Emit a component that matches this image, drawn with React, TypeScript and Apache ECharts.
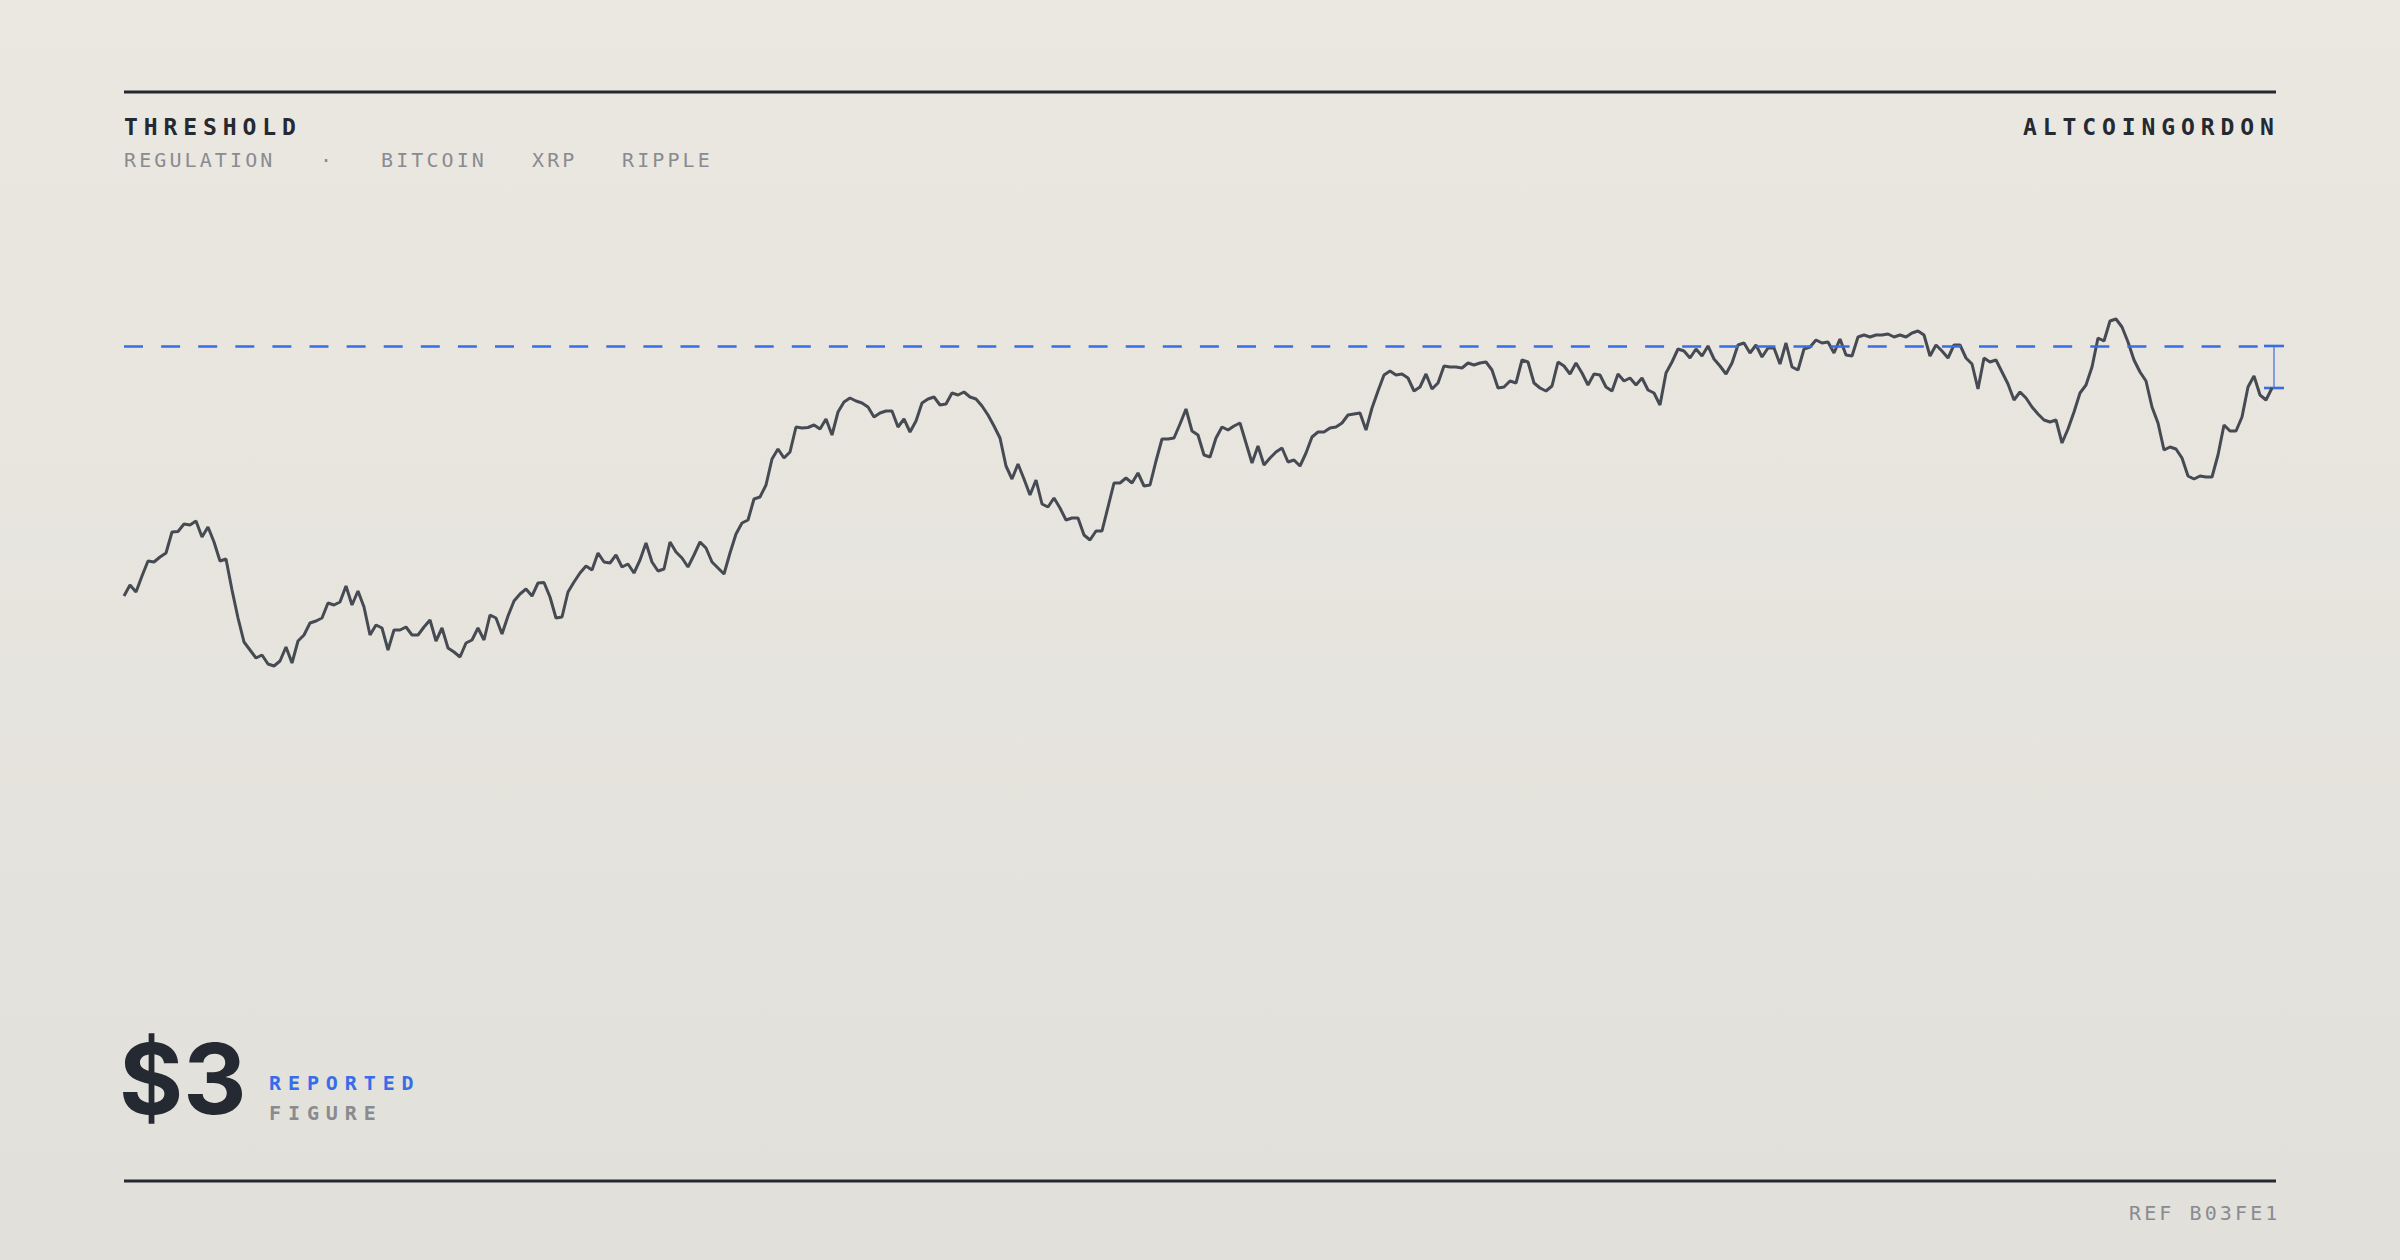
import React, { useEffect, useRef } from 'react';
import * as echarts from 'echarts';

// price readings, one every ~6px of the original picture
const PRICE: number[] = [
    2.500, 2.522, 2.508, 2.540, 2.570, 2.568, 2.578, 2.586, 2.628, 2.629,
    2.644, 2.642, 2.650, 2.618, 2.638, 2.608, 2.570, 2.574, 2.512, 2.456,
    2.408, 2.392, 2.376, 2.382, 2.364, 2.360, 2.370, 2.398, 2.366, 2.410,
    2.422, 2.446, 2.450, 2.456, 2.486, 2.482, 2.488, 2.520, 2.482, 2.510,
    2.478, 2.422, 2.442, 2.436, 2.392, 2.432, 2.432, 2.438, 2.422, 2.422,
    2.438, 2.452,
    2.410, 2.436, 2.396, 2.388, 2.378, 2.406, 2.412, 2.436, 2.412, 2.462,
    2.456, 2.424, 2.460, 2.490, 2.504, 2.514, 2.500, 2.526, 2.527, 2.498,
    2.456, 2.458, 2.508, 2.528, 2.546, 2.560, 2.552, 2.586, 2.568, 2.566,
    2.582, 2.558, 2.564, 2.546, 2.572, 2.606, 2.568, 2.550, 2.554, 2.608,
    2.588, 2.576, 2.558, 2.582, 2.608, 2.596, 2.568, 2.556, 2.544, 2.586,
    2.624,
    2.646, 2.652, 2.694, 2.698, 2.722, 2.774, 2.794, 2.776, 2.788, 2.838,
    2.836, 2.837, 2.842, 2.834, 2.854, 2.822, 2.868, 2.888, 2.896, 2.890,
    2.886, 2.878, 2.858, 2.866, 2.870, 2.870, 2.838, 2.854, 2.828, 2.850,
    2.886, 2.894, 2.898, 2.882, 2.884, 2.906, 2.902, 2.908, 2.898, 2.894,
    2.880, 2.862, 2.840, 2.816, 2.760, 2.734, 2.764, 2.734, 2.702, 2.732,
    2.684, 2.678,
    2.696, 2.676, 2.652, 2.656, 2.656, 2.622, 2.612, 2.630, 2.630, 2.678,
    2.726, 2.726, 2.736, 2.726, 2.746, 2.720, 2.722, 2.770, 2.814, 2.814,
    2.816, 2.844, 2.874, 2.830, 2.822, 2.782, 2.778, 2.816, 2.838, 2.832,
    2.840, 2.846, 2.806, 2.766, 2.800, 2.762, 2.776, 2.788, 2.796, 2.768,
    2.772, 2.760, 2.786, 2.818, 2.828, 2.828, 2.836, 2.838, 2.846, 2.862,
    2.864,
    2.866, 2.832, 2.876, 2.910, 2.942, 2.950, 2.942, 2.944, 2.936, 2.910,
    2.918, 2.944, 2.914, 2.926, 2.960, 2.958, 2.958, 2.956, 2.966, 2.962,
    2.966, 2.968, 2.952, 2.916, 2.918, 2.930, 2.926, 2.972, 2.968, 2.926,
    2.916, 2.910, 2.920, 2.968, 2.960, 2.944, 2.966, 2.946, 2.922, 2.944,
    2.942, 2.918, 2.910, 2.944, 2.930, 2.936, 2.922, 2.936, 2.912, 2.906,
    2.882, 2.946,
    2.968, 2.994, 2.990, 2.976, 2.994, 2.980, 3.000, 2.974, 2.960, 2.944,
    2.966, 3.002, 3.006, 2.986, 3.002, 2.978, 2.996, 2.996, 2.964, 3.006,
    2.958, 2.952, 2.994, 2.998, 3.012, 3.006, 3.008, 2.986, 3.014, 2.982,
    2.980, 3.018, 3.022, 3.018, 3.022, 3.022, 3.024, 3.018, 3.022, 3.018,
    3.026, 3.030, 3.022, 2.980, 3.002, 2.990, 2.976, 3.002, 3.002, 2.976,
    2.964, 2.914,
    2.976, 2.968, 2.972, 2.948, 2.924, 2.892, 2.908, 2.896, 2.878, 2.864,
    2.852, 2.848, 2.852, 2.806, 2.834, 2.868, 2.906, 2.922, 2.958, 3.016,
    3.010, 3.050, 3.054, 3.038, 3.008, 2.972, 2.948, 2.930, 2.878, 2.846,
    2.792, 2.798, 2.794, 2.776, 2.740, 2.734, 2.740, 2.738, 2.738, 2.782,
    2.842, 2.830, 2.830, 2.858, 2.918, 2.940, 2.902, 2.892, 2.916,
];
const DAYS = PRICE.map((_, i) => `D${i + 1}`);

const THRESHOLD = 3.0;
const TITLE = 'THRESHOLD';
const SOURCE = 'ALTCOINGORDON';
const TOPIC = 'REGULATION';
const TAGS = ['BITCOIN', 'XRP', 'RIPPLE'];
const FIGURE = '$3';
const FIGURE_LABELS = ['REPORTED', 'FIGURE'];
const REF = 'REF B03FE1';

const INK = '#252932';
const MUTED = '#8a8b90';
const BLUE = '#376de6';
const MONO = 'DejaVu Sans Mono';

// zrender has no letter-spacing, so it is put on the svg texts afterwards
const SPACING: Record<string, number> = {
    [TITLE]: 5.9,
    [SOURCE]: 5.9,
    [TOPIC]: 3.1,
    '·': 3.1,
    [REF]: 3.1,
    [FIGURE_LABELS[0]]: 6.9,
    [FIGURE_LABELS[1]]: 6.9,
};
TAGS.forEach(t => (SPACING[t] = 3.1));

const text = (x: number, y: number, t: string, size: number, weight: string, fill: string, family = MONO) => ({
    type: 'text',
    x,
    y,
    silent: true,
    style: {
        text: t,
        fill,
        fontSize: size,
        fontWeight: weight,
        fontFamily: family,
        align: 'left',
        verticalAlign: 'middle',
        textAlign: 'left',
        textVerticalAlign: 'middle',
    },
});

const rule = (y: number) => ({
    type: 'line',
    silent: true,
    shape: { x1: 124, y1: y, x2: 2276, y2: y },
    style: { stroke: INK, lineWidth: 3 },
});

export default function App() {
    const chartRef = useRef<HTMLDivElement | null>(null);

    useEffect(() => {
        if (!chartRef.current) return;
        const chart = echarts.init(chartRef.current, null, { renderer: 'svg' });

        chart.setOption({
            animation: false,
            backgroundColor: new echarts.graphic.LinearGradient(0, 0, 0, 1, [
                { offset: 0, color: '#ebe8e1' },
                { offset: 1, color: '#e1e0da' },
            ]),
            grid: { left: 124, right: 128, top: 246, bottom: 514 },
            xAxis: { type: 'category', data: DAYS, boundaryGap: false, show: false },
            yAxis: { type: 'value', min: 2.2, max: 3.2, show: false },
            series: [
                {
                    type: 'line',
                    data: PRICE,
                    symbol: 'none',
                    silent: true,
                    lineStyle: { color: '#464a53', width: 3 },
                    markLine: {
                        silent: true,
                        symbol: 'none',
                        label: { show: false },
                        lineStyle: { color: BLUE, width: 2.6, type: [19, 18.1] },
                        data: [{ yAxis: THRESHOLD }],
                    },
                },
            ],
        });

        // bracket between the threshold and the last reading
        const last = PRICE.length - 1;
        const bx = (chart.convertToPixel({ xAxisIndex: 0 }, last) as number) + 2;
        const yThr = chart.convertToPixel({ yAxisIndex: 0 }, THRESHOLD) as number;
        const yLast = chart.convertToPixel({ yAxisIndex: 0 }, PRICE[last]) as number;

        chart.setOption({
            graphic: {
                elements: [
                    rule(92),
                    rule(1181),
                    text(124, 127, TITLE, 23, 'bold', INK),
                    text(2023, 127, SOURCE, 23, 'bold', INK),
                    text(124, 160, TOPIC, 20, 'normal', MUTED),
                    text(320, 160, '·', 20, 'normal', MUTED),
                    text(381, 160, TAGS[0], 20, 'normal', MUTED),
                    text(532, 160, TAGS[1], 20, 'normal', MUTED),
                    text(622, 160, TAGS[2], 20, 'normal', MUTED),
                    text(119, 1078, FIGURE, 98, 'bold', INK, 'Inter'),
                    text(269, 1083, FIGURE_LABELS[0], 20, 'bold', BLUE),
                    text(269, 1113, FIGURE_LABELS[1], 20, 'bold', MUTED),
                    text(2129, 1213, REF, 20, 'normal', MUTED),
                    {
                        type: 'line',
                        silent: true,
                        shape: { x1: bx, y1: yThr, x2: bx, y2: yLast },
                        style: { stroke: 'rgba(55,109,230,0.6)', lineWidth: 2 },
                    },
                    {
                        type: 'line',
                        silent: true,
                        shape: { x1: bx - 10, y1: yThr, x2: bx + 10, y2: yThr },
                        style: { stroke: BLUE, lineWidth: 2.6 },
                    },
                    {
                        type: 'line',
                        silent: true,
                        shape: { x1: bx - 10, y1: yLast, x2: bx + 10, y2: yLast },
                        style: { stroke: BLUE, lineWidth: 2.6 },
                    },
                ],
            },
        });

        const applySpacing = () => {
            chartRef.current?.querySelectorAll('text').forEach(t => {
                const ls = SPACING[t.textContent ?? ''];
                if (ls) t.style.letterSpacing = `${ls}px`;
            });
        };
        chart.on('finished', applySpacing);
        applySpacing();
        const timer = setTimeout(applySpacing, 100);

        return () => {
            clearTimeout(timer);
            chart.dispose();
        };
    }, []);

    return (
        <div
            ref={chartRef}
            style={{ position: 'fixed', left: 0, top: 0, width: '100vw', height: '100vh' }}
        />
    );
}
